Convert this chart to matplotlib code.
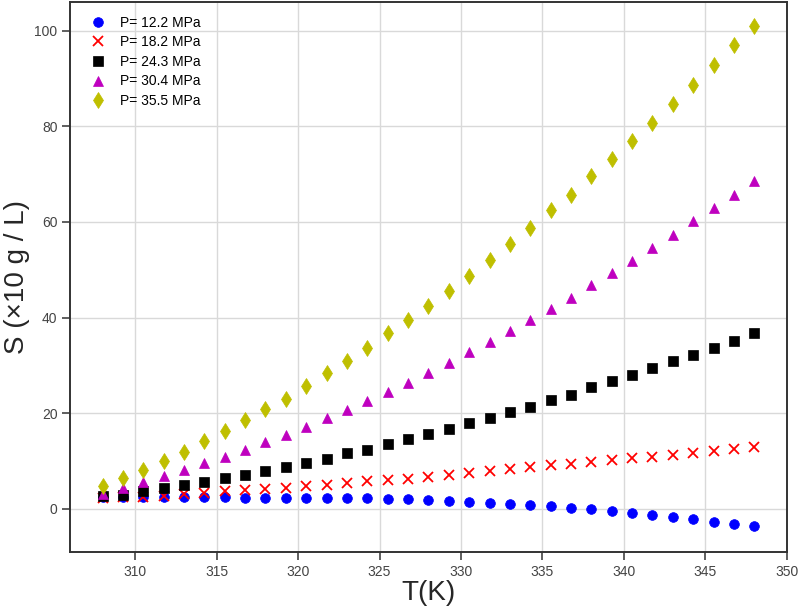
# -*- coding: utf-8 -*-

# solubility vs temperature at several pressures

import matplotlib
matplotlib.use("Agg")
import matplotlib.pyplot as plt


# temperature points (K)
T = [308.0, 309.25, 310.5, 311.75, 313.0, 314.25, 315.5, 316.75, 318.0, 319.25,
     320.5, 321.75, 323.0, 324.25, 325.5, 326.75, 328.0, 329.25, 330.5, 331.75,
     333.0, 334.25, 335.5, 336.75, 338.0, 339.25, 340.5, 341.75, 343.0, 344.25,
     345.5, 346.75, 348.0]

# solubility, one list per pressure
S_122 = [2.4, 2.45, 2.45, 2.5, 2.45, 2.45, 2.4, 2.35, 2.3, 2.3,
         2.25, 2.25, 2.2, 2.2, 2.05, 2.0, 1.8, 1.6, 1.45, 1.2,
         1.0, 0.75, 0.55, 0.15, 0.0, -0.4, -0.85, -1.25, -1.6, -2.0,
         -2.65, -3.05, -3.6]
S_182 = [2.3, 2.5, 2.6, 2.8, 3.15, 3.4, 3.7, 4.05, 4.25, 4.45,
         4.75, 5.05, 5.44, 5.78, 6.0, 6.34, 6.76, 7.18, 7.6, 7.94,
         8.36, 8.68, 9.1, 9.5, 9.86, 10.28, 10.56, 10.9, 11.3, 11.7,
         12.1, 12.5, 12.9]
S_243 = [2.66, 3.0, 3.78, 4.4, 4.97, 5.6, 6.43, 7.13, 8.04, 8.67,
         9.58, 10.55, 11.6, 12.4, 13.6, 14.6, 15.6, 16.8, 17.9, 19.1,
         20.25, 21.4, 22.8, 23.9, 25.4, 26.8, 28.1, 29.5, 30.9, 32.2,
         33.7, 35.2, 36.7]
S_304 = [3.2, 4.4, 5.73, 6.92, 8.2, 9.58, 10.9, 12.4, 14.0, 15.5,
         17.06, 19.0, 20.7, 22.5, 24.4, 26.4, 28.4, 30.6, 32.9, 35.0,
         37.2, 39.4, 41.8, 44.2, 46.8, 49.3, 51.9, 54.5, 57.3, 60.1,
         62.9, 65.6, 68.5]
S_355 = [4.9, 6.43, 8.25, 10.0, 12.0, 14.2, 16.2, 18.6, 20.8, 23.0,
         25.7, 28.4, 30.9, 33.7, 36.8, 39.4, 42.4, 45.6, 48.7, 52.0,
         55.4, 58.7, 62.4, 65.7, 69.5, 73.1, 76.9, 80.6, 84.7, 88.6,
         92.7, 96.9, 101.0]

labels = ["P= 12.2 MPa", "P= 18.2 MPa", "P= 24.3 MPa", "P= 30.4 MPa", "P= 35.5 MPa"]
series = [S_122, S_182, S_243, S_304, S_355]
styles = [("b", "o", 7), ("r", "x", 7), ("k", "s", 6.5), ("m", "^", 7), ("y", "d", 8.5)]

plt.rcParams['font.family'] = ['Liberation Sans', 'DejaVu Sans']

fig = plt.figure(figsize=(7.98, 6.11), dpi=100)
ax = fig.add_axes([0.0877, 0.0965, 0.8983, 0.9005])

for s, lab, (c, m, ms) in zip(series, labels, styles):
    ax.plot(T, s, linestyle="none", marker=m, color=c, markersize=ms,
            markeredgewidth=1.3 if m == "x" else 0.5, label=lab)

ax.set_xlim(306, 350)
ax.set_ylim(-9, 106)
ax.set_xticks([310, 315, 320, 325, 330, 335, 340, 345, 350])
ax.set_yticks([0, 20, 40, 60, 80, 100])

ax.grid(True, color="#d9d9d9", linewidth=1.0)
ax.set_axisbelow(True)
for sp in ax.spines.values():
    sp.set_color("#333333")
    sp.set_linewidth(1.4)
ax.tick_params(direction="out", length=6, width=1.1, color="#333333",
               labelsize=10, labelcolor="#444444", pad=3)

ax.set_xlabel("T(K)", fontsize=20, color="#262626", labelpad=1)
ax.set_ylabel("S (×10 g / L)", fontsize=20, color="#262626", labelpad=3)

ax.legend(loc="upper left", frameon=False, fontsize=10, handletextpad=0.6,
          labelspacing=0.4, borderaxespad=0.6)

fig.savefig("out.png", dpi=100)
